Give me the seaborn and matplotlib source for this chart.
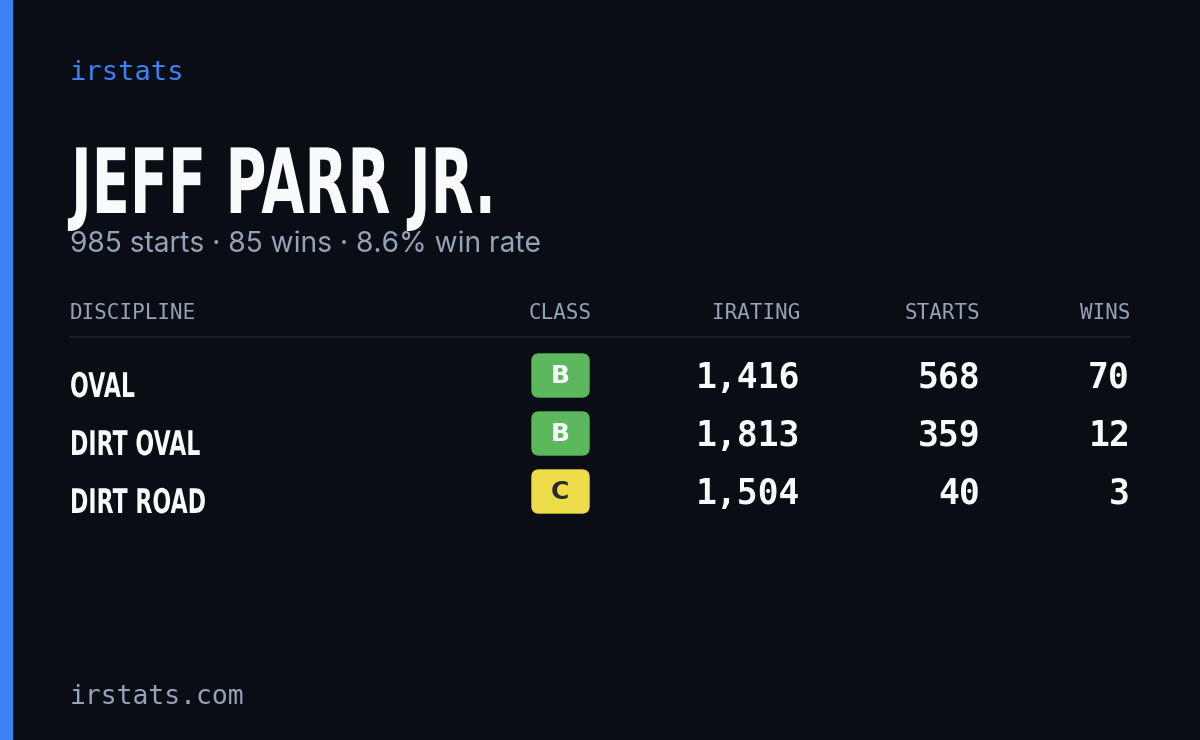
import matplotlib
matplotlib.use("Agg")
import matplotlib.pyplot as plt
import seaborn as sns
from matplotlib.patches import Rectangle, FancyBboxPatch, PathPatch
from matplotlib.textpath import TextPath
from matplotlib.font_manager import FontProperties
from matplotlib.transforms import Affine2D

sns.set_theme(style="white")
plt.rcParams['font.family'] = ['DejaVu Sans']

# data
driver = "JEFF PARR JR."
total_starts = 985
total_wins = 85
win_rate = 8.6
disciplines = ["OVAL", "DIRT OVAL", "DIRT ROAD"]
classes = ["B", "B", "C"]
iratings = [1416, 1813, 1504]
starts = [568, 359, 40]
wins = [70, 12, 3]
headers = ["DISCIPLINE", "CLASS", "IRATING", "STARTS", "WINS"]

BG = "#0a0d14"
BLUE = "#3b82f6"
GREY = "#94a3b8"
WHITE = "#f8fafc"
class_colors = {"A": "#3b82f6", "B": "#5cb85c", "C": "#eedd4a", "D": "#f59e0b", "R": "#ef4444"}

fig = plt.figure(figsize=(12, 7.4), dpi=100, facecolor=BG)
ax = fig.add_axes([0, 0, 1, 1])
ax.set_facecolor(BG)
ax.set_xlim(0, 1200)
ax.set_ylim(740, 0)
ax.axis("off")

bold = FontProperties(family="DejaVu Sans", weight="bold")


def squeezed(text, x, baseline, em, sx, color):
    # condensed headline text: draw the glyph outlines narrowed horizontally
    tp = TextPath((0, 0), text, size=1, prop=bold)
    tr = Affine2D().scale(em * sx, -em).translate(x, baseline)
    ax.add_patch(PathPatch(tr.transform_path(tp), color=color, lw=0))


ax.add_patch(Rectangle((0, 0), 12, 740, color=BLUE))

mono = "DejaVu Sans Mono"
ax.text(70, 73, "irstats", color=BLUE, fontsize=19.5, family=mono, va="center")
squeezed(driver, 71, 213, 90, 0.62, WHITE)
ax.text(70, 245, f"{total_starts} starts · {total_wins} wins · {win_rate}% win rate",
        color=GREY, fontsize=20.3, family="Inter", va="center")

hx = [70, 560, 800, 980, 1130]
ha = ["left", "center", "right", "right", "right"]
for h, x, a in zip(headers, hx, ha):
    ax.text(x, 313, h, color=GREY, fontsize=15, family=mono, ha=a, va="center")
ax.plot([70, 1130], [337, 337], color="#1e2530", lw=1.2)

for i, (d, c, ir, s, w) in enumerate(zip(disciplines, classes, iratings, starts, wins)):
    y = 378 + i * 58
    squeezed(d, 70, y + 19, 34, 0.65, WHITE)
    ax.add_patch(FancyBboxPatch((532, y - 24), 57, 43, boxstyle="round,pad=0,rounding_size=7",
                                color=class_colors[c]))
    ax.text(560, y - 2, c, color=WHITE if c != "C" else "#2a2a2a", fontsize=18,
            weight="bold", ha="center", va="center")
    for val, x in zip([f"{ir:,}", f"{s}", f"{w}"], [800, 980, 1130]):
        ax.text(x, y, val, color=WHITE, fontsize=25, family=mono, weight="bold",
                ha="right", va="center")

ax.text(70, 697, "irstats.com", color=GREY, fontsize=19, family=mono, va="center")

fig.savefig("out.png", dpi=100, facecolor=BG)
